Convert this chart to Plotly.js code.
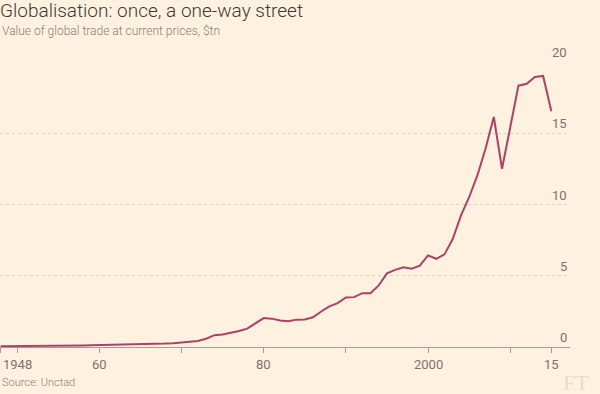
<!DOCTYPE html>
<html>
<head>
<meta charset="utf-8">
<script src="https://cdn.plot.ly/plotly-3.0.1.min.js"></script>
<style>
  html, body { margin: 0; padding: 0; background: #fff1e0; }
  #chart { width: 600px; height: 394px; }
</style>
</head>
<body>
<div id="chart"></div>
<script>
// Data: value of global trade at current prices, $tn
const years = [];
for (let y = 1948; y <= 2015; y++) years.push(y);
const tradeValues = [
  0.06, 0.06, 0.06, 0.08, 0.08, 0.08, 0.08, 0.09, 0.10, 0.11, // 1948-1957
  0.11, 0.12, 0.13, 0.13, 0.14, 0.15, 0.17, 0.19, 0.20, 0.21, // 1958-1967
  0.24, 0.27, 0.32, 0.35, 0.42, 0.58, 0.83, 0.87, 0.98, 1.12, // 1968-1977
  1.29, 1.65, 2.03, 1.99, 1.86, 1.81, 1.92, 1.93, 2.09, 2.49, // 1978-1987
  2.85, 3.08, 3.48, 3.50, 3.78, 3.78, 4.32, 5.17, 5.41, 5.59, // 1988-1997
  5.49, 5.71, 6.43, 6.19, 6.50, 7.58, 9.22, 10.51, 12.04, 13.93, // 1998-2007
  16.14, 12.51, 15.30, 18.34, 18.47, 18.95, 19.02, 16.54        // 2008-2015
];

const xTickVals = [1948, 1950, 1960, 1970, 1980, 1990, 2000, 2010, 2015];
const xLabelVals = [1948, 1960, 1980, 2000, 2015];
const xLabelText = ["1948", "60", "80", "2000", "15"];
const yTickVals = [0, 5, 10, 15, 20];
const yTickText = ["0", "5", "10", "15", "20"];

const FONT = "Roboto, 'Noto Sans', sans-serif";
const GREY = "#7a746e";

const annotations = [];
xLabelVals.forEach((v, i) => {
  annotations.push({
    x: v, xref: "x", y: 0, yref: "paper",
    yshift: -17, text: xLabelText[i], showarrow: false,
    xanchor: i === 0 ? "left" : "center", yanchor: "middle",
    font: { family: FONT, size: 13, color: GREY }
  });
});
yTickVals.forEach((v, i) => {
  annotations.push({
    x: 1, xref: "paper", y: v, yref: "y",
    text: yTickText[i], showarrow: false,
    xanchor: "right", yanchor: "bottom", xshift: -1, yshift: 0,
    font: { family: FONT, size: 13, color: GREY }
  });
});
annotations.push({
  x: 0, xref: "paper", y: 1, yref: "paper", yshift: 31,
  text: "Value of global trade at current prices, $tn", showarrow: false,
  xanchor: "left", yanchor: "middle",
  font: { family: FONT, size: 12, weight: 300, color: "#857e77" }
});
annotations.push({
  x: 0, xref: "paper", y: 0, yref: "paper", yshift: -35,
  text: "Source: Unctad", showarrow: false,
  xanchor: "left", yanchor: "middle",
  font: { family: FONT, size: 11, weight: 300, color: "#857e77" }
});
annotations.push({
  x: 1, xref: "paper", y: 0, yref: "paper", xshift: 21, yshift: -35,
  text: "FT", showarrow: false,
  xanchor: "right", yanchor: "middle",
  font: { family: "'Liberation Serif', 'DejaVu Serif', serif", size: 22, color: "#eadccb" }
});

const trace = {
  x: years, y: tradeValues, type: "scatter", mode: "lines",
  line: { color: "#ab4166", width: 2 },
  hoverinfo: "skip"
};

const layout = {
  width: 600, height: 394,
  paper_bgcolor: "#fff1e0", plot_bgcolor: "#fff1e0",
  margin: { l: 0, r: 30, t: 62, b: 47, pad: 0 },
  showlegend: false,
  title: {
    text: "Globalisation: once, a one-way street",
    x: 0, xref: "paper", xanchor: "left",
    y: 0.99, yref: "container", yanchor: "top",
    font: { family: FONT, size: 19, weight: 300, color: "#3d3935" }
  },
  xaxis: {
    range: [1947.93, 2017.27],
    tickmode: "array", tickvals: xTickVals, showticklabels: false,
    ticks: "outside", ticklen: 5, tickcolor: "#a49d95", tickwidth: 1,
    showline: true, linecolor: "#a49d95", linewidth: 1,
    showgrid: false, zeroline: false, fixedrange: true
  },
  yaxis: {
    range: [0, 20],
    tickmode: "array", tickvals: yTickVals, showticklabels: false,
    showgrid: true, gridcolor: "#ddd1c3", griddash: "dot", gridwidth: 1,
    zeroline: false, showline: false, ticks: "", fixedrange: true
  },
  annotations: annotations
};

Plotly.newPlot("chart", [trace], layout, { displayModeBar: false, staticPlot: true });
</script>
</body>
</html>
